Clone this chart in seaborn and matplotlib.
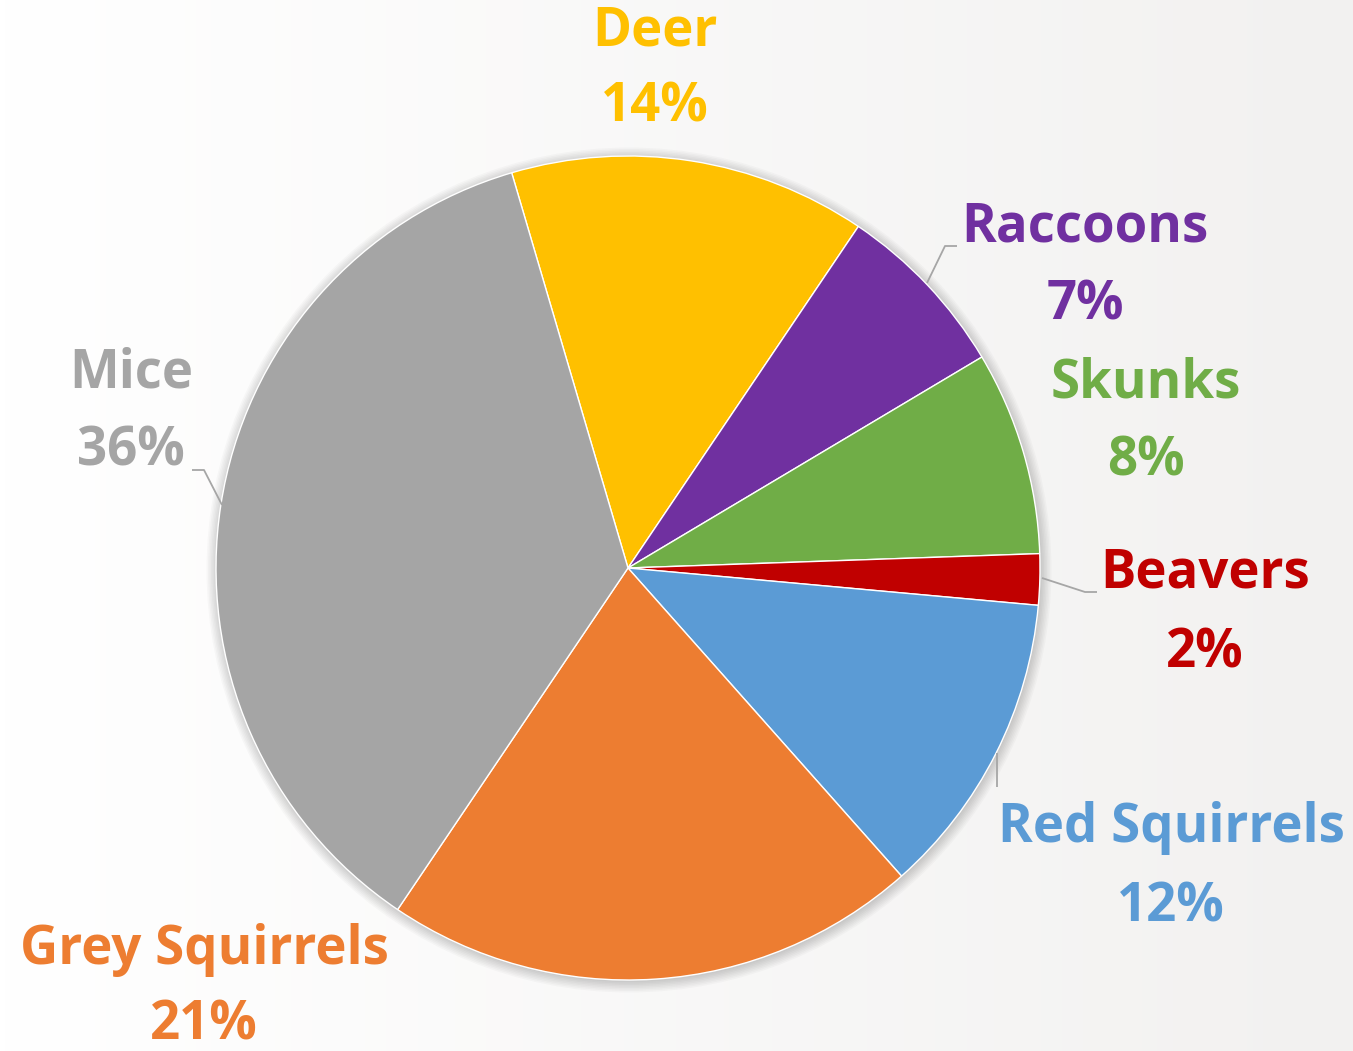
import numpy as np
import matplotlib.pyplot as plt
import seaborn as sns
from matplotlib.patches import Circle

# ===================== DATA =====================
animals = ["Deer", "Raccoons", "Skunks", "Beavers", "Red Squirrels", "Grey Squirrels", "Mice"]
shares = [14, 7, 8, 2, 12, 21, 36]
slice_colors = ["#FFC000", "#7030A0", "#70AD47", "#C00000", "#5B9BD5", "#ED7D31", "#A5A5A5"]

# ===================== LAYOUT (pixels, y measured from top) =====================
W, H = 1353, 1051
center_px = (628, 568)
radius_px = 412
# label centre x, name line y, percent line y
label_pos = {
    "Deer": (655, 32, 108),
    "Raccoons": (1085, 228, 305),
    "Skunks": (1146, 383, 462),
    "Beavers": (1205, 573, 653),
    "Red Squirrels": (1171, 828, 907),
    "Grey Squirrels": (204, 950, 1025),
    "Mice": (131, 373, 452),
}
# leader lines (pixel polylines)
leaders = [
    [(957, 246), (945, 246), (927, 283)],
    [(192, 470), (204, 470), (222, 505)],
    [(1097, 592), (1085, 592), (1042, 578)],
    [(997, 753), (997, 787)],
]

sns.set_theme(style="white")
plt.rcParams['font.family'] = ['Open Sans', 'DejaVu Sans']
palette = sns.color_palette(slice_colors)

fig = plt.figure(figsize=(W / 100, H / 100), dpi=100)
ax = fig.add_axes([0, 0, 1, 1])

# background gradient, white -> light warm grey
grad = np.linspace(0, 1, 256)[None, :]
c0 = np.array([255, 255, 255]) / 255
c1 = np.array([242, 241, 240]) / 255
img = c0[None, None, :] * (1 - grad[..., None]) + c1[None, None, :] * grad[..., None]
ax.imshow(img, extent=[0, W, 0, H], aspect='auto', zorder=0)

cx, cy = center_px[0], H - center_px[1]

# soft shadow around the pie
for k in range(8):
    ax.add_patch(Circle((cx + 1, cy - 2), radius_px + 1.5 * k, color="black",
                        alpha=0.025, lw=0, zorder=1))

ax.pie(shares, colors=palette, startangle=106.4, counterclock=False,
       center=(cx, cy), radius=radius_px,
       wedgeprops=dict(edgecolor="white", linewidth=1.0, zorder=2))

for pts in leaders:
    xs = [p[0] for p in pts]
    ys = [H - p[1] for p in pts]
    ax.plot(xs, ys, color="#A6A6A6", lw=1.3, zorder=3, solid_capstyle='butt')

for name, val, col in zip(animals, shares, palette):
    x, y1, y2 = label_pos[name]
    ax.text(x, H - y1, name, color=col, fontsize=38, fontweight='bold',
            ha='center', va='center', zorder=4)
    ax.text(x, H - y2, f"{val}%", color=col, fontsize=38, fontweight='bold',
            ha='center', va='center', zorder=4)

ax.set_xlim(0, W)
ax.set_ylim(0, H)
ax.axis('off')

fig.savefig("out.png", dpi=100)
